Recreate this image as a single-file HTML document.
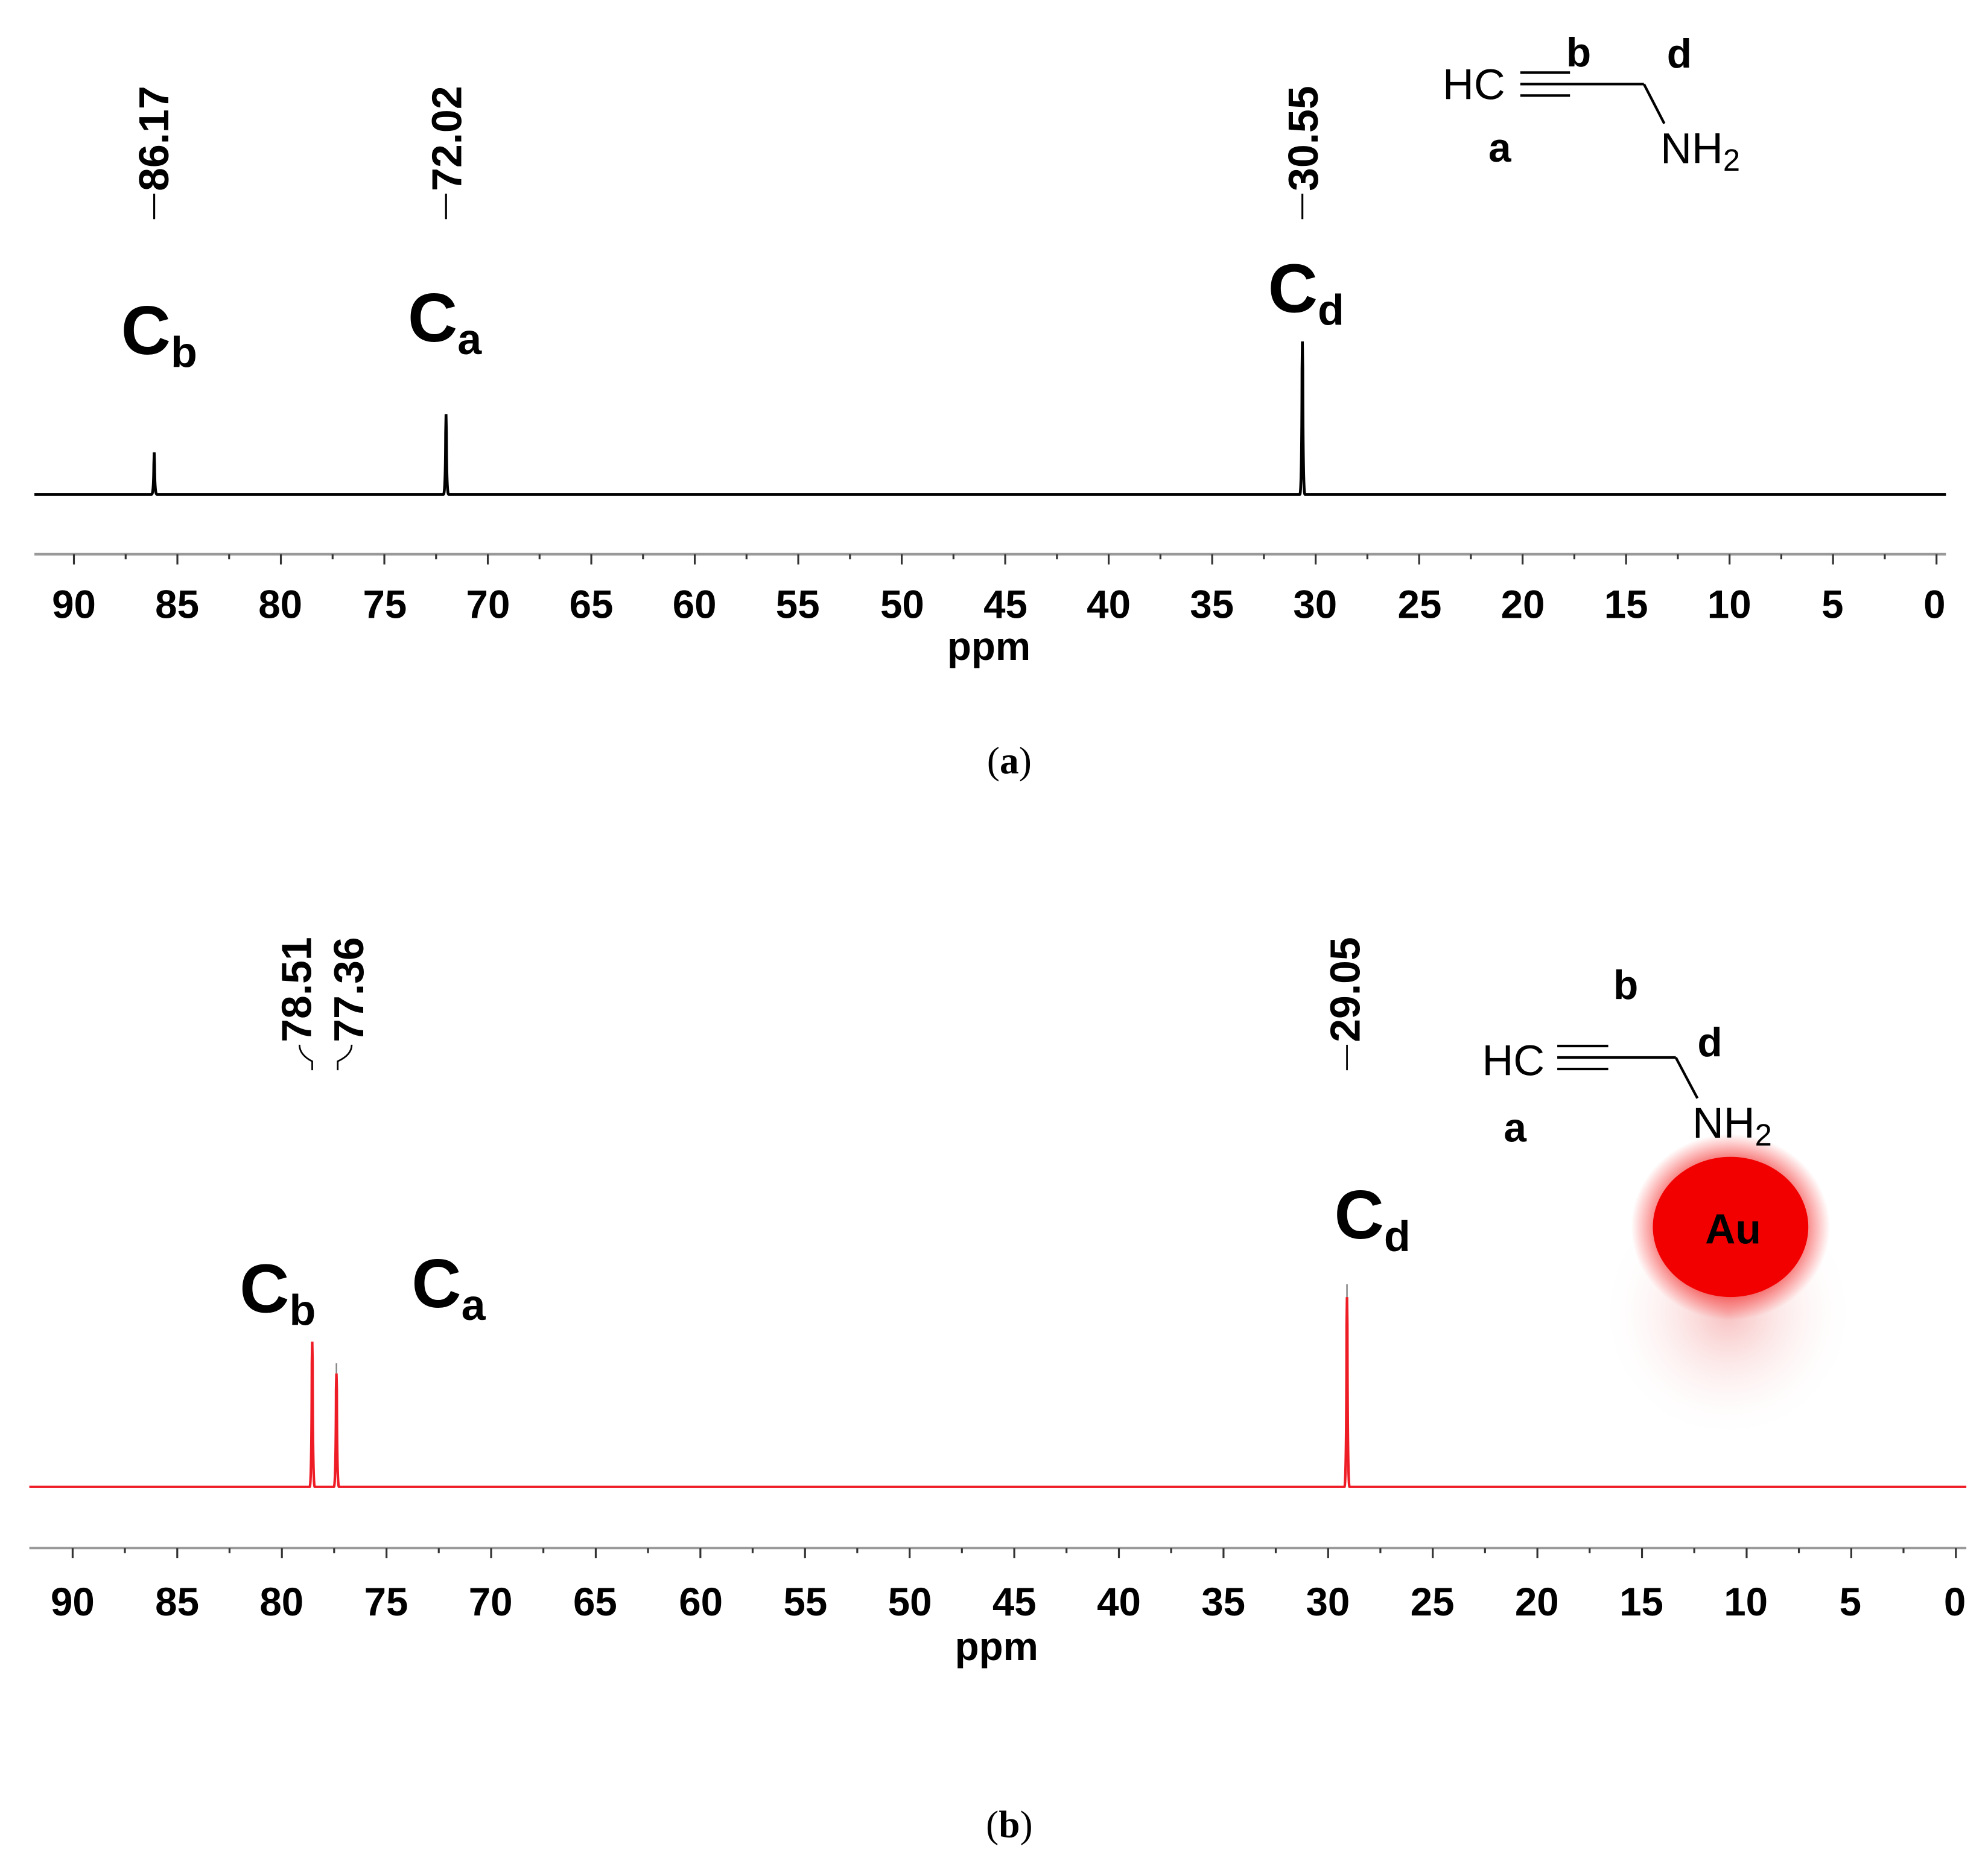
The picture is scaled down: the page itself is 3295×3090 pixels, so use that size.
<!DOCTYPE html>
<html><head><style>html,body{margin:0;padding:0;background:#fff}svg{display:block}</style></head>
<body>
<svg width="3295" height="3090" viewBox="0 0 1560 1463" preserveAspectRatio="none" xmlns="http://www.w3.org/2000/svg" font-family="Liberation Sans, Arial, sans-serif">
<defs>
<radialGradient id="glow" cx="0.5" cy="0.5" r="0.5">
<stop offset="0.55" stop-color="#e00000" stop-opacity="0.9"/>
<stop offset="1" stop-color="#ff0000" stop-opacity="0"/>
</radialGradient>
<radialGradient id="glow2" cx="0.5" cy="0.5" r="0.5">
<stop offset="0" stop-color="#f08080" stop-opacity="0.5"/>
<stop offset="1" stop-color="#ffffff" stop-opacity="0"/>
</radialGradient>
</defs>
<rect width="1560" height="1463" fill="#fff"/>

<!-- Panel a -->
<g>
<path d="M27,388 L119,388 Q120.5,388 120.7,365 L121,355 L121.3,365 Q121.5,388 123,388 L348,388 Q349.5,388 349.7,340 L350,325 L350.3,340 Q350.5,388 352,388 L1020,388 Q1021.5,388 1021.7,290 L1022,268 L1022.3,290 Q1022.5,388 1024,388 L1527,388" fill="none" stroke="#000" stroke-width="2.2"/>
<line x1="27" y1="435" x2="1527" y2="435" stroke="#999" stroke-width="2"/>
<g stroke="#333" stroke-width="1.5">
<line x1="58" y1="435" x2="58" y2="443"/><line x1="139.2" y1="435" x2="139.2" y2="443"/><line x1="220.4" y1="435" x2="220.4" y2="443"/><line x1="301.6" y1="435" x2="301.6" y2="443"/><line x1="382.8" y1="435" x2="382.8" y2="443"/><line x1="464" y1="435" x2="464" y2="443"/><line x1="545.2" y1="435" x2="545.2" y2="443"/><line x1="626.4" y1="435" x2="626.4" y2="443"/><line x1="707.6" y1="435" x2="707.6" y2="443"/><line x1="788.8" y1="435" x2="788.8" y2="443"/><line x1="870" y1="435" x2="870" y2="443"/><line x1="951.2" y1="435" x2="951.2" y2="443"/><line x1="1032.4" y1="435" x2="1032.4" y2="443"/><line x1="1113.6" y1="435" x2="1113.6" y2="443"/><line x1="1194.8" y1="435" x2="1194.8" y2="443"/><line x1="1276" y1="435" x2="1276" y2="443"/><line x1="1357.2" y1="435" x2="1357.2" y2="443"/><line x1="1438.4" y1="435" x2="1438.4" y2="443"/><line x1="1519.6" y1="435" x2="1519.6" y2="443"/>
<line x1="98.6" y1="435" x2="98.6" y2="439"/><line x1="179.8" y1="435" x2="179.8" y2="439"/><line x1="261" y1="435" x2="261" y2="439"/><line x1="342.2" y1="435" x2="342.2" y2="439"/><line x1="423.4" y1="435" x2="423.4" y2="439"/><line x1="504.6" y1="435" x2="504.6" y2="439"/><line x1="585.8" y1="435" x2="585.8" y2="439"/><line x1="667" y1="435" x2="667" y2="439"/><line x1="748.2" y1="435" x2="748.2" y2="439"/><line x1="829.4" y1="435" x2="829.4" y2="439"/><line x1="910.6" y1="435" x2="910.6" y2="439"/><line x1="991.8" y1="435" x2="991.8" y2="439"/><line x1="1073" y1="435" x2="1073" y2="439"/><line x1="1154.2" y1="435" x2="1154.2" y2="439"/><line x1="1235.4" y1="435" x2="1235.4" y2="439"/><line x1="1316.6" y1="435" x2="1316.6" y2="439"/><line x1="1397.8" y1="435" x2="1397.8" y2="439"/><line x1="1479" y1="435" x2="1479" y2="439"/>
</g>
<g font-size="31" font-weight="bold" text-anchor="middle" fill="#000">
<text x="58" y="485">90</text><text x="139" y="485">85</text><text x="220" y="485">80</text><text x="302" y="485">75</text><text x="383" y="485">70</text><text x="464" y="485">65</text><text x="545" y="485">60</text><text x="626" y="485">55</text><text x="708" y="485">50</text><text x="789" y="485">45</text><text x="870" y="485">40</text><text x="951" y="485">35</text><text x="1032" y="485">30</text><text x="1114" y="485">25</text><text x="1195" y="485">20</text><text x="1276" y="485">15</text><text x="1357" y="485">10</text><text x="1438" y="485">5</text><text x="1518" y="485">0</text>
<text x="776" y="518">ppm</text>
</g>
<text x="792" y="607" font-family="Liberation Serif, serif" font-size="30" text-anchor="middle">(<tspan font-weight="bold">a</tspan>)</text>
<g font-size="33" font-weight="bold" fill="#000">
<text transform="translate(132,150) rotate(-90)">86.17</text>
<text transform="translate(362,150) rotate(-90)">72.02</text>
<text transform="translate(1034,150) rotate(-90)">30.55</text>
</g>
<g stroke="#000" stroke-width="1.5"><line x1="121" y1="152" x2="121" y2="172"/><line x1="350" y1="152" x2="350" y2="172"/><line x1="1022" y1="152" x2="1022" y2="172"/></g>
<g font-weight="bold" fill="#000" font-size="54">
<text x="95" y="278">C<tspan font-size="34" dy="10">b</tspan></text>
<text x="320" y="268">C<tspan font-size="34" dy="10">a</tspan></text>
<text x="995" y="245">C<tspan font-size="34" dy="10">d</tspan></text>
</g>
<g fill="#000">
<text x="1132" y="78" font-size="34">HC</text>
<g stroke="#000" stroke-width="2"><line x1="1193" y1="57" x2="1232" y2="57"/><line x1="1193" y1="66" x2="1290" y2="66"/><line x1="1193" y1="75" x2="1232" y2="75"/><line x1="1290" y1="66" x2="1306" y2="97"/></g>
<text x="1303" y="128" font-size="34">NH<tspan font-size="24" dy="6">2</tspan></text>
<g font-weight="bold" font-size="32"><text x="1168" y="127">a</text><text x="1229" y="52">b</text><text x="1308" y="53">d</text></g>
</g>
</g>

<!-- Panel b -->
<g>
<ellipse cx="1356" cy="1030" rx="100" ry="100" fill="url(#glow2)"/>
<ellipse cx="1358" cy="963" rx="78" ry="73" fill="url(#glow)"/>
<ellipse cx="1358" cy="963" rx="61" ry="55" fill="#f20000"/>
<text x="1360" y="976" font-size="33" font-weight="bold" text-anchor="middle" fill="#000">Au</text>
<path d="M23,1167 L243,1167 Q244.5,1167 244.7,1070 L245,1053 L245.3,1070 Q245.5,1167 247,1167 L262,1167 Q263.5,1167 263.7,1090 L264,1078 L264.3,1090 Q264.5,1167 266,1167 L1055,1167 Q1056.5,1167 1056.7,1040 L1057,1018 L1057.3,1040 Q1057.5,1167 1059,1167 L1543,1167" fill="none" stroke="#ee1c25" stroke-width="2"/>
<g stroke="#888" stroke-width="1.2"><line x1="264" y1="1070" x2="264" y2="1078"/><line x1="1057" y1="1008" x2="1057" y2="1018"/></g>
<line x1="23" y1="1215" x2="1543" y2="1215" stroke="#999" stroke-width="2"/>
<g stroke="#333" stroke-width="1.5">
<line x1="57" y1="1215" x2="57" y2="1223"/><line x1="139.1" y1="1215" x2="139.1" y2="1223"/><line x1="221.2" y1="1215" x2="221.2" y2="1223"/><line x1="303.3" y1="1215" x2="303.3" y2="1223"/><line x1="385.4" y1="1215" x2="385.4" y2="1223"/><line x1="467.5" y1="1215" x2="467.5" y2="1223"/><line x1="549.6" y1="1215" x2="549.6" y2="1223"/><line x1="631.7" y1="1215" x2="631.7" y2="1223"/><line x1="713.8" y1="1215" x2="713.8" y2="1223"/><line x1="795.9" y1="1215" x2="795.9" y2="1223"/><line x1="878" y1="1215" x2="878" y2="1223"/><line x1="960.1" y1="1215" x2="960.1" y2="1223"/><line x1="1042.2" y1="1215" x2="1042.2" y2="1223"/><line x1="1124.3" y1="1215" x2="1124.3" y2="1223"/><line x1="1206.4" y1="1215" x2="1206.4" y2="1223"/><line x1="1288.5" y1="1215" x2="1288.5" y2="1223"/><line x1="1370.6" y1="1215" x2="1370.6" y2="1223"/><line x1="1452.7" y1="1215" x2="1452.7" y2="1223"/><line x1="1534.8" y1="1215" x2="1534.8" y2="1223"/>
<line x1="98" y1="1215" x2="98" y2="1219"/><line x1="180.1" y1="1215" x2="180.1" y2="1219"/><line x1="262.2" y1="1215" x2="262.2" y2="1219"/><line x1="344.3" y1="1215" x2="344.3" y2="1219"/><line x1="426.4" y1="1215" x2="426.4" y2="1219"/><line x1="508.5" y1="1215" x2="508.5" y2="1219"/><line x1="590.6" y1="1215" x2="590.6" y2="1219"/><line x1="672.7" y1="1215" x2="672.7" y2="1219"/><line x1="754.8" y1="1215" x2="754.8" y2="1219"/><line x1="836.9" y1="1215" x2="836.9" y2="1219"/><line x1="919" y1="1215" x2="919" y2="1219"/><line x1="1001.1" y1="1215" x2="1001.1" y2="1219"/><line x1="1083.2" y1="1215" x2="1083.2" y2="1219"/><line x1="1165.3" y1="1215" x2="1165.3" y2="1219"/><line x1="1247.4" y1="1215" x2="1247.4" y2="1219"/><line x1="1329.5" y1="1215" x2="1329.5" y2="1219"/><line x1="1411.6" y1="1215" x2="1411.6" y2="1219"/><line x1="1493.7" y1="1215" x2="1493.7" y2="1219"/>
</g>
<g font-size="31" font-weight="bold" text-anchor="middle" fill="#000">
<text x="57" y="1268">90</text><text x="139" y="1268">85</text><text x="221" y="1268">80</text><text x="303" y="1268">75</text><text x="385" y="1268">70</text><text x="467" y="1268">65</text><text x="550" y="1268">60</text><text x="632" y="1268">55</text><text x="714" y="1268">50</text><text x="796" y="1268">45</text><text x="878" y="1268">40</text><text x="960" y="1268">35</text><text x="1042" y="1268">30</text><text x="1124" y="1268">25</text><text x="1206" y="1268">20</text><text x="1288" y="1268">15</text><text x="1370" y="1268">10</text><text x="1452" y="1268">5</text><text x="1534" y="1268">0</text>
<text x="782" y="1303">ppm</text>
</g>
<text x="792" y="1442" font-family="Liberation Serif, serif" font-size="30" text-anchor="middle">(<tspan font-weight="bold">b</tspan>)</text>
<g font-size="33" font-weight="bold" fill="#000">
<text transform="translate(244,818) rotate(-90)">78.51</text>
<text transform="translate(285,818) rotate(-90)">77.36</text>
<text transform="translate(1067,818) rotate(-90)">29.05</text>
</g>
<g stroke="#000" stroke-width="1.3" fill="none"><path d="M235,820 Q235,828 245,833 L245,840"/><path d="M276,820 Q276,828 265,833 L265,840"/><line x1="1057" y1="820" x2="1057" y2="840"/></g>
<g font-weight="bold" fill="#000" font-size="54">
<text x="188" y="1030">C<tspan font-size="34" dy="10">b</tspan></text>
<text x="323" y="1026">C<tspan font-size="34" dy="10">a</tspan></text>
<text x="1047" y="972">C<tspan font-size="34" dy="10">d</tspan></text>
</g>
<g fill="#000">
<text x="1163" y="844" font-size="34">HC</text>
<g stroke="#000" stroke-width="2"><line x1="1222" y1="821" x2="1262" y2="821"/><line x1="1222" y1="830" x2="1315" y2="830"/><line x1="1222" y1="839" x2="1262" y2="839"/><line x1="1315" y1="830" x2="1332" y2="862"/></g>
<text x="1328" y="893" font-size="34">NH<tspan font-size="24" dy="6">2</tspan></text>
<g font-weight="bold" font-size="32"><text x="1180" y="896">a</text><text x="1266" y="784">b</text><text x="1332" y="829">d</text></g>
</g>
</g>
</svg>
</body></html>
